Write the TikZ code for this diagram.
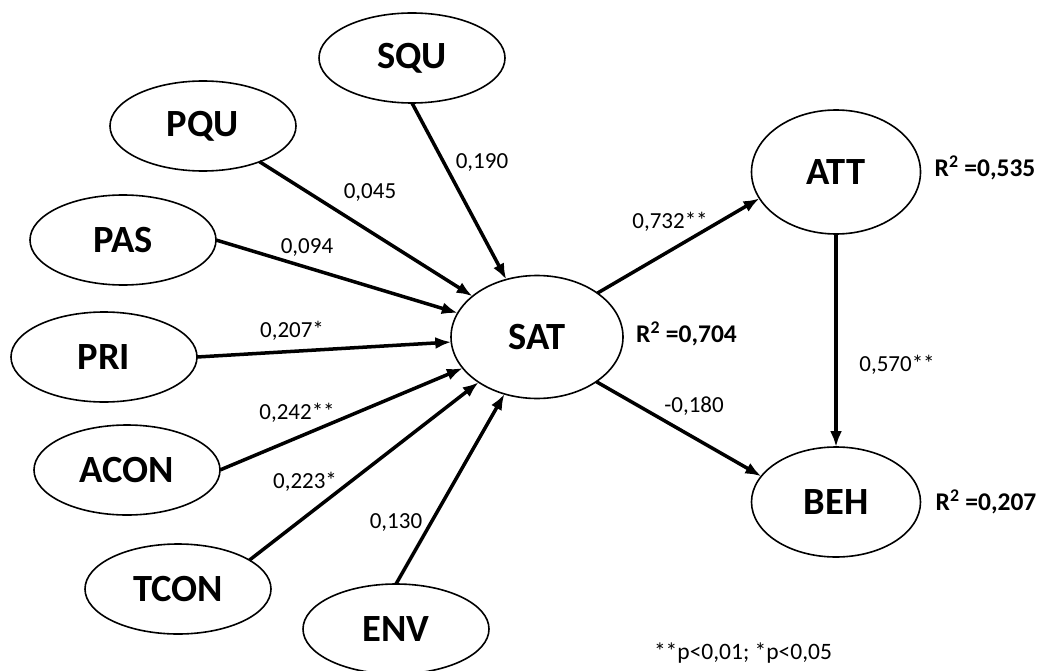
\documentclass[tikz,border=0pt]{standalone}
\usepackage{fontspec}
\setmainfont{Carlito}
\usetikzlibrary{shapes.geometric, arrows.meta, positioning}

\begin{document}
\begin{tikzpicture}[x=1pt, y=-1pt]
\tikzstyle{main}=[ellipse, draw=black, line width=1.6pt, minimum width=186pt, minimum height=90pt, inner sep=0pt, outer sep=0pt, font=\fontsize{38.5}{42}\selectfont\bfseries]
\tikzstyle{big}=[main, minimum width=172pt, minimum height=123pt]
\tikzstyle{connect}=[-{Latex[length=16pt, width=12pt]}, line width=3.5pt]
\tikzstyle{coef}=[font=\fontsize{23}{26}\selectfont, inner sep=0pt]
\tikzstyle{rsq}=[font=\fontsize{25.5}{28}\selectfont\bfseries, inner sep=0pt]
\useasboundingbox (0,0) rectangle (1040,671);
    % exogenous constructs
    \node[main] (SQU)  at (412,58)  {SQU};
    \node[main] (PQU)  at (203,126) {PQU};
    \node[main] (PAS)  at (123,240) {PAS};
    \node[main] (PRI)  at (104,357) {PRI};
    \node[main] (ACON) at (127,470) {ACON};
    \node[main] (TCON) at (178,589) {TCON};
    \node[main] (ENV)  at (396,629) {ENV};
    % endogenous constructs
    \node[big] (SAT) at (537,337) {SAT};
    \node[big, minimum width=169pt, minimum height=124pt] (ATT) at (836,172) {ATT};
    \node[big, minimum width=169pt, minimum height=110pt] (BEH) at (836,502) {BEH};
    % paths
    \path (SQU.south) edge [connect] (SAT)
          (PQU)       edge [connect] (SAT)
          (PAS.east)  edge [connect] (SAT)
          (PRI.east)  edge [connect] (SAT)
          (ACON.east) edge [connect] (SAT)
          (TCON.22)   edge [connect] (SAT)
          (ENV.north) edge [connect] (SAT)
          (SAT.36)    edge [connect] (ATT.199)
          (SAT.-37)   edge [connect] (BEH.161)
          (ATT)       edge [connect] (BEH);
    % coefficients
    \node[coef] (cSQU)  at (482,163) {0,190};
    \node[coef] (cPQU)  at (370,193) {0,045};
    \node[coef] (cPAS)  at (307,248) {0,094};
    \node[coef] (cPRI)  at (292,331) {0,207*};
    \node[coef] (cACON) at (297,413) {0,242**};
    \node[coef] (cTCON) at (305,482) {0,223*};
    \node[coef] (cENV)  at (396,523) {0,130};
    \node[coef] (cATT)  at (670,222) {0,732**};
    \node[coef] (cBEH)  at (694,406) {-0,180};
    \node[coef] (cAB)   at (897,365) {0,570**};
    % explained variance
    \node[rsq] (rSAT) [right=13pt of SAT, yshift=3pt] {R\textsuperscript{2} =0,704};
    \node[rsq] (rATT) [right=14pt of ATT, yshift=4pt] {R\textsuperscript{2} =0,535};
    \node[rsq] (rBEH) [right=15pt of BEH] {R\textsuperscript{2} =0,207};
    \node[coef, font=\fontsize{23.5}{26}\selectfont] (note) at (743,653) {**p<0,01; *p<0,05};
\end{tikzpicture}
\end{document}
